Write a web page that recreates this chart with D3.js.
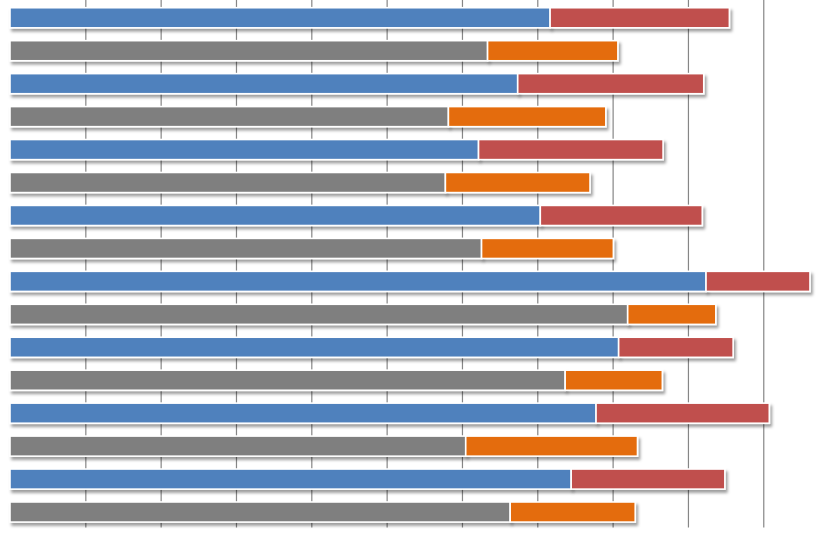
<!DOCTYPE html>
<html>
<head>
<meta charset="utf-8">
<script src="https://cdn.jsdelivr.net/npm/d3@7"></script>
<style>
  html, body { margin: 0; padding: 0; background: #ffffff; }
  svg { display: block; }
</style>
</head>
<body>
<svg id="chart" width="821" height="537"></svg>
<script>
// ---- data ----
const categories = ["1","2","3","4","5","6","7","8","9","10","11","12","13","14","15","16"];
const rowType    = ["A","B","A","B","A","B","A","B","A","B","A","B","A","B","A","B"];
const baseValues  = [71.7, 63.4, 67.4, 58.2, 62.2, 57.8, 70.4, 62.6, 92.4, 82.0, 80.8, 73.7, 77.8, 60.5, 74.5, 66.4];
const extraValues = [23.8, 17.3, 24.7, 20.9, 24.5, 19.2, 21.5, 17.5, 13.8, 11.7, 15.2, 12.9, 23.0, 22.8, 20.4, 16.6];
const tickValues  = [10, 20, 30, 40, 50, 60, 70, 80, 90, 100];
const baseColors  = { A: "#4F81BD", B: "#7F7F7F" };
const extraColors = { A: "#C0504D", B: "#E46C0A" };

const svg = d3.select("#chart");
const W = 821, H = 537;
const plotTop = 0, plotBottom = 527.5;

const x = d3.scaleLinear().domain([0, 110]).range([10, 838.6]);
const y = d3.scaleBand().domain(categories).range([1.3, 528.5])
  .paddingInner(0.39).paddingOuter(0.195);

// shadow filter
const defs = svg.append("defs");
const f = defs.append("filter").attr("id", "shadow")
  .attr("x", "-5%").attr("y", "-40%").attr("width", "115%").attr("height", "190%");
f.append("feDropShadow").attr("dx", 2).attr("dy", 3).attr("stdDeviation", 1.8)
  .attr("flood-color", "#000").attr("flood-opacity", 0.38);

// gridlines via axis
const grid = svg.append("g").attr("transform", `translate(0,${plotBottom})`)
  .call(d3.axisBottom(x).tickValues(tickValues).tickSize(-(plotBottom - plotTop)).tickFormat(""));
grid.select(".domain").remove();
grid.selectAll(".tick line").attr("stroke", "#868686").attr("stroke-width", 1.2);

const rows = categories.map((c, i) => ({
  cat: c, type: rowType[i], base: baseValues[i], extra: extraValues[i]
}));

const g = svg.append("g");
// base segments
g.selectAll("rect.base").data(rows).join("rect")
  .attr("class", "base")
  .attr("x", x(0))
  .attr("y", d => y(d.cat))
  .attr("width", d => x(d.base) - x(0))
  .attr("height", y.bandwidth())
  .attr("fill", d => baseColors[d.type])
  .attr("stroke", "#ffffff").attr("stroke-width", 1.6)
  .attr("filter", "url(#shadow)");
// extra segments
g.selectAll("rect.extra").data(rows).join("rect")
  .attr("class", "extra")
  .attr("x", d => x(d.base))
  .attr("y", d => y(d.cat))
  .attr("width", d => x(d.base + d.extra) - x(d.base))
  .attr("height", y.bandwidth())
  .attr("fill", d => extraColors[d.type])
  .attr("stroke", "#ffffff").attr("stroke-width", 1.6)
  .attr("filter", "url(#shadow)");
</script>
</body>
</html>
